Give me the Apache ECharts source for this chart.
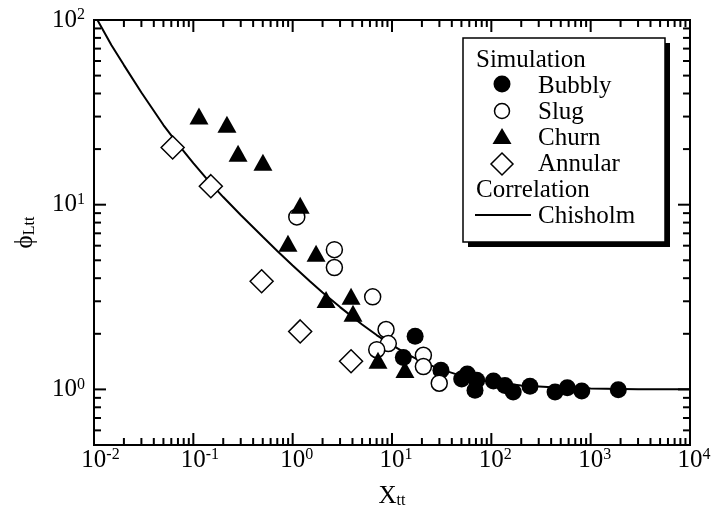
<!DOCTYPE html>
<html><head><meta charset="utf-8">
<script src="https://cdn.jsdelivr.net/npm/echarts@6/dist/echarts.min.js"></script>
<style>html,body{margin:0;padding:0;background:#fff}#c{width:723px;height:522px}</style>
</head><body><div id="c"></div>
<script>
// ---- data ----
const bubblyX = [17.1, 13.0, 31.1, 50.3, 57.3, 71.3, 68.5, 105, 137, 166, 245, 438, 582, 813, 1897];
const bubblyY = [1.94, 1.49, 1.27, 1.14, 1.21, 1.12, 0.99, 1.11, 1.05, 0.967, 1.04, 0.967, 1.02, 0.979, 0.996];
const slugX = [1.10, 2.63, 2.63, 6.39, 8.71, 9.18, 7.02, 20.7, 20.7, 29.9];
const slugY = [8.59, 5.71, 4.57, 3.17, 2.11, 1.77, 1.64, 1.53, 1.33, 1.08];
const churnX = [0.114, 0.218, 0.282, 0.502, 1.19, 0.897, 1.72, 2.17, 3.87, 4.05, 7.23, 13.5];
const churnY = [30.2, 27.3, 19.0, 17.0, 9.94, 6.18, 5.46, 3.07, 3.19, 2.58, 1.44, 1.28];
const annularX = [0.0619, 0.150, 0.487, 1.19, 3.87];
const annularY = [20.4, 12.6, 3.85, 2.06, 1.42];
const chisholmX = [0.0105, 0.015, 0.02, 0.03, 0.05, 0.07, 0.1, 0.15, 0.2, 0.3, 0.5, 0.7, 1, 1.5, 2, 3, 5, 7, 10, 15, 20, 30, 50, 70, 100, 200, 500, 1000, 3000, 10000];
const chisholmY = [103, 73, 57, 40.5, 27, 21.3, 16.8, 13.0, 11.0, 8.8, 6.71, 5.62, 4.69, 3.84, 3.35, 2.79, 2.245, 1.969, 1.735, 1.529, 1.415, 1.291, 1.183, 1.134, 1.0955, 1.049, 1.020, 1.010, 1.003, 1.001];
const xTickExps = [-2, -1, 0, 1, 2, 3, 4];
const yTickExps = [0, 1, 2];
const seriesNames = ['Bubbly', 'Slug', 'Churn', 'Annular', 'Chisholm'];
const headers = ['Simulation', 'Correlation'];
const xName = ['X', 'tt'];
const yName = ['\u03d5', 'Ltt'];

const FONT = 'Liberation Serif';
const LFONT = '25px "Liberation Serif"';
const zip = (a, b) => a.map((v, i) => [v, b[i]]);

// tick marks (inside frame, all four sides)
const tickData = [];
for (let e = -2; e < 4; e++) for (let m = 1; m < 10; m++) tickData.push([m * Math.pow(10, e), 1, 0, m === 1 ? 1 : 0]);
tickData.push([1e4, 1, 0, 1]);
for (let e = -1; e < 2; e++) for (let m = 1; m < 10; m++) {
  const v = m * Math.pow(10, e);
  if (v > 0.55) tickData.push([1, v, 1, m === 1 ? 1 : 0]);
}
tickData.push([1, 100, 1, 1]);

function expOf(v, list) {
  const l = Math.log10(v), e = Math.round(l);
  if (Math.abs(l - e) > 1e-6 || list.indexOf(e) < 0) return null;
  return e;
}
const supRich = {
  m: {fontSize: 25, fontFamily: FONT, color: '#000', lineHeight: 26},
  s: {fontSize: 16, fontFamily: FONT, color: '#000', lineHeight: 16, verticalAlign: 'top'},
  p1: {width: 8}, p2: {width: 13}
};
const subRich = {
  m: {fontSize: 25, fontFamily: FONT, color: '#000', lineHeight: 26},
  b: {fontSize: 16, fontFamily: FONT, color: '#000', lineHeight: 6, verticalAlign: 'bottom'}
};

// legend drawn as graphic elements
const LX = 502, TX = 538;
const rows = [60, 86, 112, 138, 164, 190, 216];
function txt(x, y, s) {
  return {type: 'text', z: 21, style: {x: x, y: y, text: s, fill: '#000', font: LFONT, verticalAlign: 'middle'}};
}
const legendGraphics = [
  {type: 'rect', z: 10, shape: {x: 468, y: 43, width: 202, height: 204}, style: {fill: '#000'}},
  {type: 'rect', z: 11, shape: {x: 463, y: 38, width: 202, height: 204}, style: {fill: '#fff', stroke: '#000', lineWidth: 1.5}},
  txt(476, rows[0], headers[0]),
  {type: 'circle', z: 21, shape: {cx: LX, cy: rows[1] - 2, r: 8.5}, style: {fill: '#000'}},
  txt(TX, rows[1], seriesNames[0]),
  {type: 'circle', z: 21, shape: {cx: LX, cy: rows[2] - 1, r: 7.5}, style: {fill: '#fff', stroke: '#000', lineWidth: 1.5}},
  txt(TX, rows[2], seriesNames[1]),
  {type: 'polygon', z: 21, shape: {points: [[LX, rows[3] - 10], [LX - 9.5, rows[3] + 6], [LX + 9.5, rows[3] + 6]]}, style: {fill: '#000'}},
  txt(TX, rows[3], seriesNames[2]),
  {type: 'polygon', z: 21, shape: {points: [[LX, rows[4] - 11], [LX + 11, rows[4]], [LX, rows[4] + 11], [LX - 11, rows[4]]]}, style: {fill: '#fff', stroke: '#000', lineWidth: 1.5}},
  txt(TX, rows[4], seriesNames[3]),
  txt(476, rows[5], headers[1]),
  {type: 'line', z: 21, shape: {x1: 475, y1: rows[6] - 1, x2: 531, y2: rows[6] - 1}, style: {stroke: '#000', lineWidth: 2}},
  txt(TX, rows[6], seriesNames[4])
];

const chart = echarts.init(document.getElementById('c'), null, {renderer: 'canvas'});
chart.setOption({
  animation: false,
  backgroundColor: '#fff',
  grid: {left: 94, right: 33, top: 20, bottom: 77, show: true, borderColor: '#000', borderWidth: 2, backgroundColor: 'transparent'},
  xAxis: {
    type: 'log', logBase: 10, min: 0.01, max: 10000, splitNumber: 6,
    axisLine: {show: false}, axisTick: {show: false}, splitLine: {show: false}, minorTick: {show: false},
    axisLabel: {
      interval: 0, margin: 2, rich: supRich,
      formatter: v => { const e = expOf(v, xTickExps); if (e === null) return ''; const s = String(e); return '{p' + s.length + '|}{m|10}{s|' + s + '}'; }
    },
    name: '{m|' + xName[0] + '}{b|' + xName[1] + '}', nameLocation: 'middle', nameGap: 38,
    nameTextStyle: {rich: subRich}
  },
  yAxis: {
    type: 'log', logBase: 10, min: 0.5, max: 100, splitNumber: 3,
    axisLine: {show: false}, axisTick: {show: false}, splitLine: {show: false}, minorTick: {show: false},
    axisLabel: {
      interval: 0, margin: 9, rich: supRich,
      formatter: v => { const e = expOf(v, yTickExps); if (e === null) return ''; return '{m|10}{s|' + e + '}'; }
    },
    name: '{m|' + yName[0] + '}{b|' + yName[1] + '}', nameLocation: 'middle', nameGap: 56, nameRotate: 90,
    nameTextStyle: {rich: subRich}
  },
  graphic: legendGraphics,
  series: [
    {
      name: 'ticks', type: 'custom', data: tickData, silent: true, clip: false, z: 8,
      encode: {x: 0, y: 1},
      renderItem: (params, api) => {
        const cs = params.coordSys;
        const kind = api.value(2), len = api.value(3) ? 12 : 7;
        const st = {stroke: '#000', lineWidth: 2};
        if (kind === 0) {
          const x = api.coord([api.value(0), 1])[0];
          const b = cs.y + cs.height;
          return {type: 'group', children: [
            {type: 'line', shape: {x1: x, y1: b, x2: x, y2: b - len}, style: st},
            {type: 'line', shape: {x1: x, y1: cs.y, x2: x, y2: cs.y + len}, style: st}
          ]};
        }
        const y = api.coord([1, api.value(1)])[1];
        const r = cs.x + cs.width;
        return {type: 'group', children: [
          {type: 'line', shape: {x1: cs.x, y1: y, x2: cs.x + len, y2: y}, style: st},
          {type: 'line', shape: {x1: r, y1: y, x2: r - len, y2: y}, style: st}
        ]};
      }
    },
    {name: seriesNames[4], type: 'line', data: zip(chisholmX, chisholmY), symbol: 'none', silent: true,
     lineStyle: {color: '#000', width: 2}, itemStyle: {color: '#000'}, z: 2},
    {name: seriesNames[0], type: 'scatter', data: zip(bubblyX, bubblyY), symbol: 'circle', symbolSize: 17,
     itemStyle: {color: '#000', opacity: 1}, silent: true, z: 3},
    {name: seriesNames[1], type: 'scatter', data: zip(slugX, slugY), symbol: 'circle', symbolSize: 16,
     itemStyle: {color: '#fff', borderColor: '#000', borderWidth: 1.5, opacity: 1}, silent: true, z: 3},
    {name: seriesNames[2], type: 'scatter', data: zip(churnX, churnY), symbol: 'triangle', symbolSize: [19, 17],
     itemStyle: {color: '#000', opacity: 1}, silent: true, z: 3},
    {name: seriesNames[3], type: 'scatter', data: zip(annularX, annularY), symbol: 'diamond', symbolSize: [23, 23],
     itemStyle: {color: '#fff', borderColor: '#000', borderWidth: 1.5, opacity: 1}, silent: true, z: 3}
  ]
});
</script></body></html>
